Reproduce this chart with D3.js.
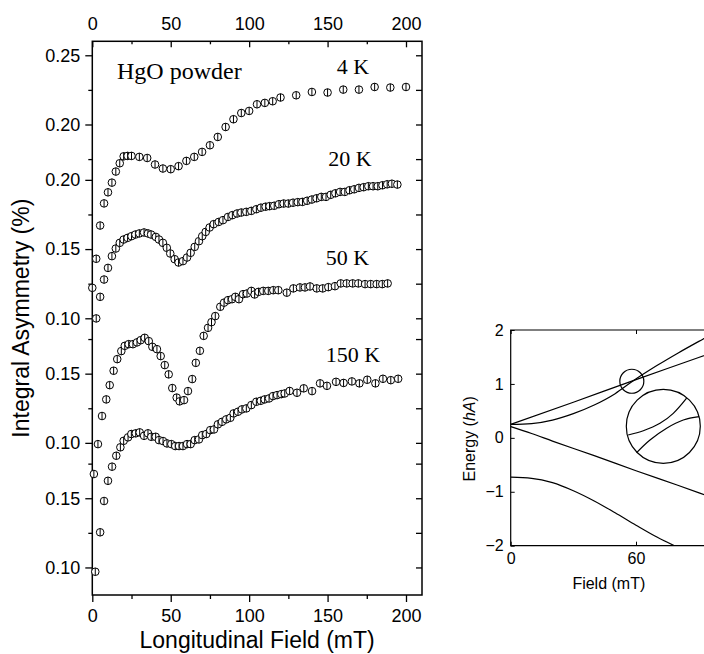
<!DOCTYPE html>
<html>
<head>
<meta charset="utf-8">
<script src="https://cdn.jsdelivr.net/npm/d3@7"></script>
<style>
  body { margin: 0; background: #fff; }
  svg { display: block; }
</style>
</head>
<body>
<svg></svg>
<script>
// ---- data (field in mT, integral asymmetry as read against each curve's own axis labels)
const series4K = [[0,0.082],[2.5,0.103],[5,0.127],[7.5,0.143],[10,0.151],[12.5,0.158],[15,0.166],[17.5,0.172],[20,0.177],[22.5,0.1773],[25,0.1773],[30,0.1766],[35,0.1758],[40,0.1711],[45,0.1682],[50,0.1677],[55,0.1699],[60,0.1737],[65,0.1766],[70,0.1802],[75,0.185],[80,0.191],[85,0.1982],[90,0.2038],[95,0.2083],[100,0.2098],[105,0.2146],[110,0.2156],[115,0.2168],[120,0.2195],[130,0.2211],[140,0.2235],[150,0.2231],[160,0.2252],[170,0.2252],[180,0.2271],[190,0.2267],[200,0.2271]];
const series20K = [[2.5,0.0999],[5,0.1155],[7.5,0.128],[10,0.1364],[12.5,0.1449],[15,0.1504],[17.5,0.1545],[20,0.1569],[22.5,0.1581],[25,0.1593],[27.5,0.1605],[30,0.1613],[33,0.162],[35.5,0.1613],[37.5,0.1605],[40.5,0.1588],[42.5,0.1569],[45,0.1545],[47.5,0.1509],[49.7,0.1468],[52.5,0.1427],[55,0.1403],[57.8,0.1413],[60.4,0.1439],[62.7,0.1473],[65.3,0.1516],[68,0.1557],[70.1,0.1593],[72.3,0.1624],[74.8,0.1656],[77.4,0.168],[80.6,0.1696],[83.3,0.1709],[86.5,0.1732],[89.3,0.1745],[92.3,0.1757],[95,0.1764],[98.2,0.1769],[101.4,0.1776],[104.6,0.1788],[107.5,0.1799],[110.5,0.1806],[113,0.181],[116,0.1813],[119,0.1824],[122,0.1829],[125,0.1829],[128,0.1835],[131,0.1839],[134,0.1841],[137,0.1849],[140,0.1858],[143,0.1867],[146,0.1877],[149,0.1877],[152,0.1892],[155,0.1903],[158,0.1913],[161,0.1913],[164,0.1925],[167,0.1932],[170,0.1942],[173,0.1947],[176,0.1954],[179,0.1954],[182,0.1954],[185,0.1961],[188,0.1968],[191,0.1972],[194.5,0.1966]];
const series50K = [[1,0.0775],[3.6,0.0991],[6.2,0.1194],[8.9,0.1314],[11.1,0.1417],[13.6,0.1521],[15.9,0.1605],[18.5,0.1663],[20.7,0.1701],[23.2,0.1713],[25.9,0.1713],[28.5,0.1726],[30.9,0.1742],[33.4,0.1759],[36,0.1735],[38.3,0.1694],[41.2,0.1677],[43.6,0.1627],[46.2,0.1562],[48.7,0.1495],[51,0.1396],[53.8,0.1327],[55.7,0.13],[58.5,0.1309],[61,0.1374],[63.7,0.1461],[66,0.1578],[68.6,0.1665],[71,0.1773],[73.8,0.1831],[76,0.1872],[78.4,0.1916],[81.6,0.1983],[84,0.2013],[86.5,0.2031],[89.1,0.2038],[91.2,0.2055],[93.5,0.2038],[96.1,0.2074],[98.6,0.2079],[101.4,0.2098],[103.5,0.2072],[106,0.2091],[109,0.2098],[112.2,0.2098],[115.4,0.2103],[118.6,0.2103],[124,0.2085],[128.2,0.2116],[132.4,0.2123],[135.6,0.2123],[138.8,0.213],[143.1,0.2116],[146.9,0.2116],[150.5,0.2125],[154.7,0.2132],[158.4,0.2152],[162.2,0.2152],[166,0.2152],[169.6,0.2152],[173.9,0.2147],[177.5,0.2147],[181.3,0.2147],[184.9,0.2147],[188.3,0.2152]];
const series150K = [[1.9,0.0969],[5,0.1254],[7.5,0.148],[10,0.1626],[12.6,0.1728],[15.3,0.1807],[17.9,0.1868],[20,0.1915],[22.8,0.194],[24.9,0.1964],[27.7,0.1969],[30.2,0.1976],[33,0.1951],[35.5,0.1969],[37.6,0.1944],[40.4,0.1944],[42.5,0.192],[45.1,0.1913],[47.6,0.1896],[50.4,0.1891],[52.9,0.1877],[55.3,0.1877],[57.8,0.1877],[60.4,0.1891],[62.7,0.1891],[65.3,0.192],[68,0.1925],[70.1,0.1956],[72.7,0.1964],[75.2,0.1992],[77.6,0.1997],[80.1,0.2034],[82.7,0.2052],[85.4,0.207],[88,0.2081],[90.1,0.2113],[92.9,0.2125],[95.4,0.2142],[98.2,0.2149],[101.4,0.2173],[104.6,0.2197],[107.4,0.2204],[109.9,0.2214],[112.7,0.2221],[115.2,0.2238],[117.8,0.2245],[120.5,0.2252],[122.7,0.2257],[125.8,0.2275],[130.5,0.2262],[134.8,0.2294],[140.1,0.2274],[145.2,0.233],[149.6,0.2312],[155.4,0.2341],[160.2,0.2333],[165.5,0.2344],[170.3,0.233],[175.3,0.2356],[180.5,0.233],[185.3,0.2363],[190.3,0.2353],[195,0.2363]];

const seriesNames = ["4 K", "20 K", "50 K", "150 K"];
const seriesOffsets = [0, 0.04, 0.13, 0.22]; // each curve is shifted down on the stacked axis

const fieldTicks = [0, 50, 100, 150, 200];
const fieldMinor = [25, 75, 125, 175];
// y ticks: [panel, value], label is the value itself
const asymTicks = [[0,0.25],[0,0.20],[1,0.20],[1,0.15],[1,0.10],[2,0.15],[2,0.10],[3,0.15],[3,0.10]];
const asymMinor = [[0,0.225],[0,0.175],[1,0.175],[1,0.125],[2,0.175],[2,0.125],[3,0.175],[3,0.125]];

// energy level diagram (field mT, energy in hA)
const levelLine1 = [[0,0.25],[30,0.66],[60,1.08],[90,1.49],[120,1.91]];
const levelCurve2 = [[0,0.25],[10,0.265],[20,0.33],[30,0.45],[40,0.61],[50,0.82],[58,1.04],[70,1.34],[80,1.57],[92,1.83],[100,2.0]];
const levelLine3 = [[0,0.21],[10,0.08],[20,-0.06],[40,-0.33],[60,-0.61],[80,-0.88],[96,-1.1],[120,-1.43]];
const levelCurve4 = [[0,-0.73],[10,-0.75],[20,-0.83],[30,-0.98],[40,-1.17],[50,-1.39],[60,-1.62],[70,-1.84],[80,-2.03]];
const energyTicks = [-2, -1, 0, 1, 2];
const energyFieldTicks = [0, 60];
// magnified avoided crossing, in circle-local units (-1..1)
const insetUpper = [[-0.95,-0.235],[-0.54,-0.12],[-0.09,0.08],[0.27,0.35],[0.63,0.76]];
const insetLower = [[-0.72,-0.71],[-0.36,-0.37],[0.09,-0.05],[0.54,0.17],[0.97,0.26]];

const width = 704, height = 654;
const sans = "'Liberation Sans', Arial, Helvetica, sans-serif";
const serif = "'Liberation Serif', 'Times New Roman', serif";

const svg = d3.select("svg").attr("width", width).attr("height", height)
  .style("font-family", sans);

// ---------------- main panel
const plot = { left: 92.3, top: 41.3, right: 422, bottom: 595 };

const x = d3.scaleLinear().domain([0, 210.2]).range([plot.left, plot.right]);
// stacked axis: value minus the curve's offset
const y = d3.scaleLinear().domain([-0.1399, 0.2601]).range([plot.bottom, plot.top]);
const ys = (panel, v) => y(v - seriesOffsets[panel]);

const styleAxis = (g, size) => {
  g.select(".domain").remove();
  g.selectAll("line").attr("stroke", "#000").attr("stroke-width", 1.3);
  g.selectAll("text").attr("font-size", size).attr("font-family", sans).attr("fill", "#000");
};

// top axis, ticks inside
svg.append("g").attr("transform", `translate(0,${plot.top})`)
  .call(d3.axisTop(x).tickValues(fieldTicks).tickSize(-6).tickPadding(11).tickFormat(d3.format("d")))
  .call(g => styleAxis(g, 18));
svg.append("g").attr("transform", `translate(0,${plot.top})`)
  .call(d3.axisTop(x).tickValues(fieldMinor).tickSize(-3).tickFormat(""))
  .call(g => styleAxis(g, 18));

// bottom axis, ticks outside
svg.append("g").attr("transform", `translate(0,${plot.bottom})`)
  .call(d3.axisBottom(x).tickValues(fieldTicks).tickSize(7).tickPadding(7).tickFormat(d3.format("d")))
  .call(g => styleAxis(g, 18));
svg.append("g").attr("transform", `translate(0,${plot.bottom})`)
  .call(d3.axisBottom(x).tickValues(fieldMinor).tickSize(4).tickFormat(""))
  .call(g => styleAxis(g, 18));

// left axis, each label belongs to its own curve
const majorPos = asymTicks.map(([p, v]) => v - seriesOffsets[p]);
const majorLab = new Map(asymTicks.map(([p, v]) => [v - seriesOffsets[p], d3.format(".2f")(v)]));
const minorPos = asymMinor.map(([p, v]) => v - seriesOffsets[p]);

svg.append("g").attr("transform", `translate(${plot.left},0)`)
  .call(d3.axisLeft(y).tickValues(majorPos).tickSize(7).tickPadding(5).tickFormat(d => majorLab.get(d)))
  .call(g => styleAxis(g, 18));
svg.append("g").attr("transform", `translate(${plot.left},0)`)
  .call(d3.axisLeft(y).tickValues(minorPos).tickSize(4).tickFormat(""))
  .call(g => styleAxis(g, 18));
// right side, ticks inward
svg.append("g").attr("transform", `translate(${plot.right},0)`)
  .call(d3.axisRight(y).tickValues(majorPos.concat(minorPos)).tickSize(-6).tickFormat(""))
  .call(g => styleAxis(g, 18));

svg.append("rect")
  .attr("x", plot.left).attr("y", plot.top)
  .attr("width", plot.right - plot.left).attr("height", plot.bottom - plot.top)
  .attr("fill", "none").attr("stroke", "#000").attr("stroke-width", 1.5);

// data markers: open circle with error bar
const allSeries = [series4K, series20K, series50K, series150K];
const r = 3.8;
allSeries.forEach((data, i) => {
  const pts = svg.append("g").selectAll("g")
    .data(data).enter().append("g")
    .attr("transform", d => `translate(${x(d[0])},${ys(i, d[1])})`);
  pts.append("circle").attr("r", r)
    .attr("fill", "#fff").attr("stroke", "#000").attr("stroke-width", 1);
  pts.append("line").attr("y1", -r).attr("y2", r)
    .attr("stroke", "#000").attr("stroke-width", 1);
});

// labels inside the panel
svg.append("text").attr("x", 117).attr("y", 79)
  .attr("font-family", serif).attr("font-size", 24).text("HgO powder");
const labelPos = [[336.7, 74], [328.3, 165.7], [325.7, 265], [325.7, 362.3]];
seriesNames.forEach((name, i) => {
  svg.append("text").attr("x", labelPos[i][0]).attr("y", labelPos[i][1])
    .attr("font-family", serif).attr("font-size", 22).text(name);
});

// axis titles
svg.append("text")
  .attr("x", (plot.left + plot.right) / 2).attr("y", 648)
  .attr("text-anchor", "middle").attr("font-size", 23)
  .text("Longitudinal Field (mT)");
svg.append("text")
  .attr("transform", `translate(29,${(plot.top + plot.bottom) / 2}) rotate(-90)`)
  .attr("text-anchor", "middle").attr("font-size", 23)
  .text("Integral Asymmetry (%)");

// ---------------- energy level diagram
const ep = { left: 510.7, top: 330, bottom: 545.7 };
const ex = d3.scaleLinear().domain([0, 60]).range([ep.left, 636]);
const ey = d3.scaleLinear().domain([-2, 2]).range([ep.bottom, ep.top]);
const eRight = ex(120);

svg.append("defs").append("clipPath").attr("id", "eclip")
  .append("rect").attr("x", ep.left).attr("y", ep.top)
  .attr("width", eRight - ep.left).attr("height", ep.bottom - ep.top);

const eg = svg.append("g");
eg.append("path")
  .attr("d", `M${eRight},${ep.top}H${ep.left}V${ep.bottom}H${eRight}`)
  .attr("fill", "none").attr("stroke", "#000").attr("stroke-width", 1.2);

eg.append("g").attr("transform", `translate(${ep.left},0)`)
  .call(d3.axisLeft(ey).tickValues(energyTicks).tickSize(-4).tickPadding(7).tickFormat(d3.format("d")))
  .call(g => { styleAxis(g, 16); g.selectAll("line").attr("stroke-width", 1); });
eg.append("g").attr("transform", `translate(0,${ep.bottom})`)
  .call(d3.axisBottom(ex).tickValues(energyFieldTicks).tickSize(-4).tickPadding(7).tickFormat(d3.format("d")))
  .call(g => { styleAxis(g, 16); g.selectAll("line").attr("stroke-width", 1); });
eg.append("g").attr("transform", `translate(0,${ep.top})`)
  .call(d3.axisTop(ex).tickValues(energyFieldTicks).tickSize(-4).tickFormat(""))
  .call(g => { styleAxis(g, 16); g.selectAll("line").attr("stroke-width", 1); });

const eline = d3.line().x(d => ex(d[0])).y(d => ey(d[1])).curve(d3.curveMonotoneX);
const lines = eg.append("g").attr("clip-path", "url(#eclip)");
[levelLine1, levelCurve2, levelLine3, levelCurve4].forEach(lv => {
  lines.append("path").attr("d", eline(lv))
    .attr("fill", "none").attr("stroke", "#000").attr("stroke-width", 1.2);
});

// crossing marker and magnified view
eg.append("circle").attr("cx", ex(58)).attr("cy", ey(1.05)).attr("r", 12)
  .attr("fill", "none").attr("stroke", "#000").attr("stroke-width", 1.2);
const icx = 663.3, icy = 426.3, ir = 37;
const ix = d3.scaleLinear().domain([-1, 1]).range([icx - ir, icx + ir]);
const iy = d3.scaleLinear().domain([-1, 1]).range([icy + ir, icy - ir]);
eg.append("circle").attr("cx", icx).attr("cy", icy).attr("r", ir)
  .attr("fill", "#fff").attr("stroke", "#000").attr("stroke-width", 1.2);
const iline = d3.line().x(d => ix(d[0])).y(d => iy(d[1])).curve(d3.curveCatmullRom);
[insetUpper, insetLower].forEach(c => {
  eg.append("path").attr("d", iline(c))
    .attr("fill", "none").attr("stroke", "#000").attr("stroke-width", 1.2);
});

eg.append("text")
  .attr("x", (ep.left + 707) / 2).attr("y", 589)
  .attr("text-anchor", "middle").attr("font-size", 16)
  .text("Field (mT)");
const et = eg.append("text")
  .attr("transform", `translate(475,${(ep.top + ep.bottom) / 2 + 1}) rotate(-90)`)
  .attr("text-anchor", "middle").attr("font-size", 16);
et.append("tspan").text("Energy (");
et.append("tspan").attr("font-style", "italic").text("hA");
et.append("tspan").text(")");
</script>
</body>
</html>
